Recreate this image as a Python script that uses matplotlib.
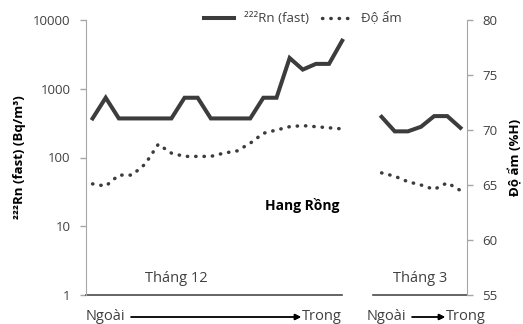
import numpy as np
import matplotlib.pyplot as plt
from matplotlib.ticker import FixedLocator, FixedFormatter, NullLocator

plt.rcParams['font.family'] = ['Open Sans', 'DejaVu Sans']

# values (20 points in December, 2 empty slots, 7 in March)
radon_dec = [370, 740, 370, 370, 370, 370, 370, 740, 740, 370,
             370, 370, 370, 740, 740, 2800, 1900, 2300, 2300, 5000]
radon_mar = [390, 240, 240, 280, 400, 400, 270]
humid_dec = [65.1, 64.9, 65.9, 65.9, 66.9, 68.7, 67.9, 67.6, 67.6, 67.6,
             67.9, 68.1, 68.8, 69.7, 70.0, 70.3, 70.4, 70.3, 70.2, 70.1]
humid_mar = [66.1, 65.8, 65.3, 65.0, 64.6, 65.2, 64.5]
n_gap = 2

left_ticks = [1, 10, 100, 1000, 10000]
right_ticks = [55, 60, 65, 70, 75, 80]

radon = np.array(radon_dec + [np.nan] * n_gap + radon_mar, dtype=float)
humid = np.array(humid_dec + [np.nan] * n_gap + humid_mar, dtype=float)
x = np.arange(len(radon))

dark = '#3c3c3c'
axis_col = '#a6a6a6'
txt_col = '#404040'

fig = plt.figure(figsize=(5.23, 3.24), dpi=100)
ax = fig.add_axes([86 / 523, 29 / 324, 381 / 523, 275 / 324])
ax2 = ax.twinx()

l1, = ax.plot(x, radon, color=dark, lw=2.9, solid_joinstyle='miter', label='²²²Rn (fast)')
l2, = ax2.plot(x, humid, color=dark, lw=2.5, linestyle=(0, (0.1, 2.3)),
               dash_capstyle='round', label='Độ ẩm')

ax.set_yscale('log')
ax.set_ylim(1, 10000)
ax.yaxis.set_major_locator(FixedLocator(left_ticks))
ax.yaxis.set_major_formatter(FixedFormatter([str(t) for t in left_ticks]))
ax.yaxis.set_minor_locator(NullLocator())
ax.set_xlim(-0.5, len(x) - 0.5)
ax.set_xticks([])

ax2.set_ylim(55, 80)
ax2.set_yticks(right_ticks)

for a in (ax, ax2):
    for s in a.spines.values():
        s.set_visible(False)
    a.tick_params(axis='y', length=4, width=1, color=axis_col, labelsize=9.5,
                  labelcolor=txt_col, pad=7)
ax.spines['left'].set_visible(True)
ax.spines['left'].set_color(axis_col)
ax2.spines['right'].set_visible(True)
ax2.spines['right'].set_color(axis_col)

# broken bottom axis (one piece per month)
ax.plot([-0.5, len(radon_dec) - 1], [1, 1], color='#4a4a4a', lw=1.2, clip_on=False)
ax.plot([len(radon_dec) + 1.35, len(x) - 0.5], [1, 1], color='#4a4a4a', lw=1.2, clip_on=False)

ax.set_ylabel('²²²Rn (fast) (Bq/m³)', fontsize=9.5, fontweight='bold', color='black', labelpad=5)
ax2.set_ylabel('Độ ẩm (%H)', fontsize=9.5, fontweight='bold', color='black', labelpad=8)

fig.legend(handles=[l1, l2], loc='center', bbox_to_anchor=(303 / 523, 1 - 19 / 324),
           ncol=2, frameon=False, fontsize=9.5, handlelength=2.3, handletextpad=0.7,
           columnspacing=1.0, labelcolor=txt_col)

ax.text(0.568, 0.325, 'Hang Rồng', transform=ax.transAxes, ha='center', va='center',
        fontsize=10, fontweight='bold', color='black')
ax.text(0.236, 0.06, 'Tháng 12', transform=ax.transAxes, ha='center', va='center',
        fontsize=10.5, color=txt_col)
ax.text(0.877, 0.06, 'Tháng 3', transform=ax.transAxes, ha='center', va='center',
        fontsize=10.5, color=txt_col)

# direction labels under the axis
ty = 1 - 317 / 324
fig.text(86 / 523, ty, 'Ngoài', ha='left', va='center', fontsize=10.5, color=txt_col)
fig.text(302 / 523, ty, 'Trong', ha='left', va='center', fontsize=10.5, color=txt_col)
fig.text(367 / 523, ty, 'Ngoài', ha='left', va='center', fontsize=10.5, color=txt_col)
fig.text(446 / 523, ty, 'Trong', ha='left', va='center', fontsize=10.5, color=txt_col)
for x0, x1 in [(131, 301), (412, 445)]:
    fig.add_artist(plt.annotate('', xy=(x1 / 523, ty), xytext=(x0 / 523, ty),
                                xycoords='figure fraction',
                                arrowprops=dict(arrowstyle='-|>', lw=1, color='black',
                                                mutation_scale=9, shrinkA=0, shrinkB=0)))

fig.savefig('out.png', dpi=100)
